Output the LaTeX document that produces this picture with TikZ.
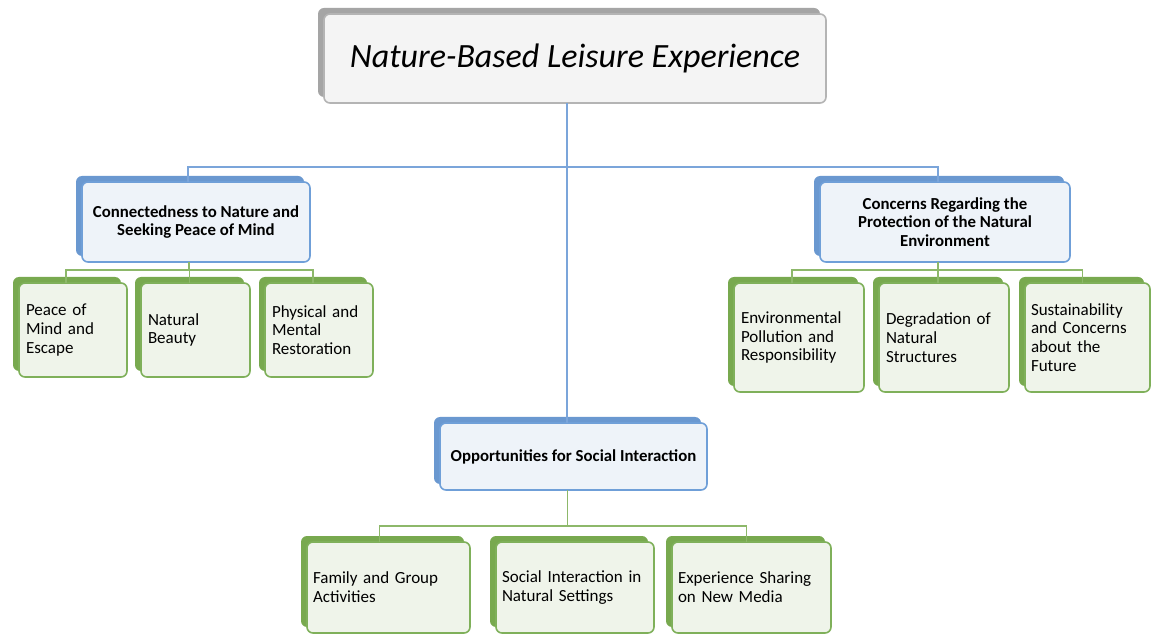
\documentclass[tikz,border=0pt]{standalone}
\usepackage{fontspec}
\setmainfont{Carlito}
\usetikzlibrary{shadows}
\definecolor{blline}{HTML}{6F9FD8}
\definecolor{blback}{HTML}{6A98D0}
\definecolor{blfill}{HTML}{EEF3F9}
\definecolor{grline}{HTML}{7FB05A}
\definecolor{grback}{HTML}{78A94F}
\definecolor{grfill}{HTML}{EFF4EA}
\definecolor{gyline}{HTML}{B4B4B4}
\definecolor{gyback}{HTML}{A5A5A5}
\definecolor{gyfill}{HTML}{F4F4F4}
\definecolor{conblue}{HTML}{7BA5DA}
\definecolor{congreen}{HTML}{8DB86A}
\tikzset{
  basebox/.style={rounded corners=6pt, line width=1.6pt, inner sep=0pt, outer sep=0pt},
  titlebox/.style={basebox, draw=gyline, fill=gyfill,
    general shadow={fill=gyback, shadow xshift=-6pt, shadow yshift=6pt},
    minimum width=502pt, minimum height=89pt,
    font=\fontsize{34}{40}\selectfont\itshape},
  headbox/.style={basebox, draw=blline, fill=blfill,
    general shadow={fill=blback, shadow xshift=-6pt, shadow yshift=6pt},
    align=center, font=\fontsize{16.8}{18.5}\selectfont\bfseries},
  leafbox/.style={basebox, draw=grline, fill=grfill,
    general shadow={fill=grback, shadow xshift=-6pt, shadow yshift=6pt},
    align=left, font=\fontsize{17}{18.7}\selectfont},
  bcon/.style={draw=conblue, line width=1.7pt},
  gcon/.style={draw=congreen, line width=1.7pt},
}
\begin{document}
\begin{tikzpicture}[x=1pt,y=-1pt]
\useasboundingbox (0,0) rectangle (1152,644);
\fill[white] (0,0) rectangle (1152,644);

\coordinate (hub) at (567,167);

% title
\node[titlebox] (title) at (575,58.5) {Nature-Based Leisure Experience};

% heads
\node[headbox, minimum width=228pt, minimum height=80pt] (conn) at (196,222)
  {Connectedness to Nature and\\Seeking Peace of Mind};
\node[headbox, minimum width=250pt, minimum height=80pt] (conc) at (945,222)
  {Concerns Regarding the\\Protection of the Natural\\Environment};
\node[headbox, minimum width=267pt, minimum height=67pt] (opp) at (573.5,456.5)
  {Opportunities for Social Interaction};

% left leaves
\node[leafbox, minimum width=108pt, minimum height=94pt, text width=94pt] (l1) at (73,330)
  {Peace of\\Mind and\\Escape};
\node[leafbox, minimum width=109pt, minimum height=94pt, text width=95pt] (l2) at (195.5,330)
  {Natural\\Beauty};
\node[leafbox, minimum width=108pt, minimum height=94pt, text width=94pt] (l3) at (319,330)
  {Physical and\\Mental\\Restoration};

% right leaves
\node[leafbox, minimum width=130pt, minimum height=109pt, text width=116pt] (r1) at (799,337.5)
  {Environmental\\Pollution and\\Responsibility};
\node[leafbox, minimum width=130pt, minimum height=109pt, text width=116pt] (r2) at (944,337.5)
  {Degradation of\\Natural\\Structures};
\node[leafbox, minimum width=125pt, minimum height=109pt, text width=113pt] (r3) at (1087.5,337.5)
  {Sustainability\\and Concerns\\about the\\Future};

% bottom leaves
\node[leafbox, minimum width=163pt, minimum height=91pt, text width=151pt] (b1) at (388.5,587.5)
  {Family and Group\\Activities};
\node[leafbox, minimum width=158pt, minimum height=91pt, text width=146pt] (b2) at (575,587.5)
  {Social Interaction in\\Natural Settings};
\node[leafbox, minimum width=159pt, minimum height=91pt, text width=147pt] (b3) at (751.5,587.5)
  {Experience Sharing\\on New Media};

% blue connectors
\draw[bcon] (title.south -| hub) -- (opp.north -| hub);
\draw[bcon] ([xshift=-8pt]conn.north) |- (hub) -| ([xshift=-7pt]conc.north);

% green connectors left
\coordinate (lbar) at ([xshift=-7pt,yshift=-8pt]conn.south);
\draw[gcon] ([xshift=-7pt]conn.south) -- (lbar);
\draw[gcon] ([xshift=-7pt]l1.north) |- (lbar) -| ([xshift=-6pt]l3.north);
\draw[gcon] ([xshift=-6pt]l2.north) -- ([xshift=-6pt]l2.north |- lbar);

% green connectors right
\coordinate (rbar) at ([xshift=-7pt,yshift=-8pt]conc.south);
\draw[gcon] ([xshift=-7pt]conc.south) -- (rbar);
\draw[gcon] ([xshift=-7pt]r1.north) |- (rbar) -| ([xshift=-5pt]r3.north);
\draw[gcon] ([xshift=-6pt]r2.north) -- ([xshift=-6pt]r2.north |- rbar);

% green connectors bottom
\coordinate (bbar) at ([xshift=-6pt,yshift=-36pt]opp.south);
\draw[gcon] ([xshift=-6pt]opp.south) -- (bbar);
\draw[gcon] ([xshift=-9pt]b1.north) |- (bbar) -| ([xshift=-5pt]b3.north);
\end{tikzpicture}
\end{document}
